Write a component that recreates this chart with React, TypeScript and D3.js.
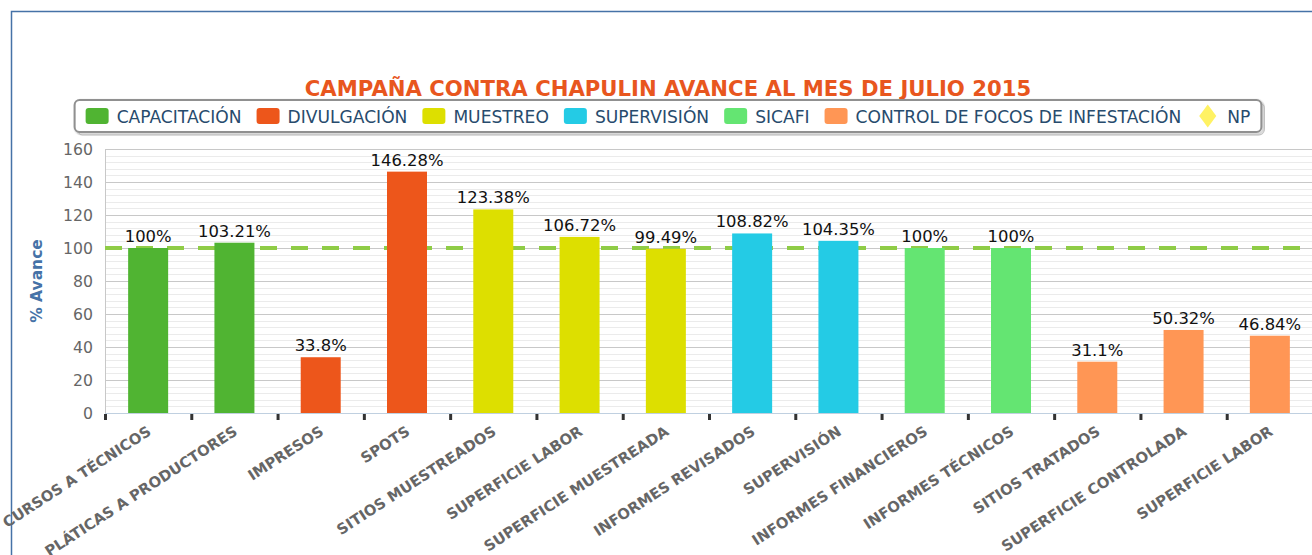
import React, { useEffect, useRef } from "react";
import * as d3 from "d3";

// categories and values
const categories = [
  "CURSOS A TÉCNICOS",
  "PLÁTICAS A PRODUCTORES",
  "IMPRESOS",
  "SPOTS",
  "SITIOS MUESTREADOS",
  "SUPERFICIE LABOR",
  "SUPERFICIE MUESTREADA",
  "INFORMES REVISADOS",
  "SUPERVISIÓN",
  "INFORMES FINANCIEROS",
  "INFORMES TÉCNICOS",
  "SITIOS TRATADOS",
  "SUPERFICIE CONTROLADA",
  "SUPERFICIE LABOR",
];
const values = [100, 103.21, 33.8, 146.28, 123.38, 106.72, 99.49, 108.82, 104.35, 100, 100, 31.1, 50.32, 46.84];
const seriesOfBar = [0, 0, 1, 1, 2, 2, 2, 3, 3, 4, 4, 5, 5, 5];
const seriesNames = [
  "CAPACITACIÓN",
  "DIVULGACIÓN",
  "MUESTREO",
  "SUPERVISIÓN",
  "SICAFI",
  "CONTROL DE FOCOS DE INFESTACIÓN",
  "NP",
];
const seriesColors = ["#50B432", "#ED561B", "#DDDF00", "#24CBE5", "#64E572", "#FF9655", "#FFF263"];
const yTicks = [0, 20, 40, 60, 80, 100, 120, 140, 160];
const goalLine = [100];

const title = "CAMPAÑA CONTRA CHAPULIN AVANCE AL MES DE JULIO 2015";
const yTitle = "% Avance";
const font = "'DejaVu Sans', Verdana, sans-serif";

const App = () => {
  const svgRef = useRef<SVGSVGElement>(null);
  const width = 1312;
  const height = 555;
  const margin = { top: 149, right: -1, bottom: 142, left: 105 };
  const centerX = 668;

  useEffect(() => {
    const svg = d3.select(svgRef.current);
    svg.selectAll("*").remove();

    const x = d3
      .scaleBand<number>()
      .domain(d3.range(categories.length))
      .range([margin.left, width - margin.right]);
    const y = d3
      .scaleLinear()
      .domain([0, 160])
      .range([height - margin.bottom, margin.top]);
    const barW = 40;

    // chart frame
    svg
      .append("rect")
      .attr("x", 11.5)
      .attr("y", 11.5)
      .attr("width", 1314)
      .attr("height", 700)
      .attr("fill", "white")
      .attr("stroke", "#4572A7")
      .attr("stroke-width", 1.5);

    // minor grid
    const minor = d3.range(0, 161, 4).filter((v) => v % 20 !== 0);
    svg
      .append("g")
      .selectAll("line")
      .data(minor)
      .join("line")
      .attr("x1", margin.left)
      .attr("x2", width)
      .attr("y1", (d) => Math.round(y(d)) + 0.5)
      .attr("y2", (d) => Math.round(y(d)) + 0.5)
      .attr("stroke", "#EBEBEB");

    // major grid
    svg
      .append("g")
      .selectAll("line")
      .data(yTicks.filter((d) => d > 0))
      .join("line")
      .attr("x1", margin.left)
      .attr("x2", width)
      .attr("y1", (d) => Math.round(y(d)) + 0.5)
      .attr("y2", (d) => Math.round(y(d)) + 0.5)
      .attr("stroke", "#C8C8C8");

    // plot left border
    svg
      .append("line")
      .attr("x1", margin.left + 0.5)
      .attr("x2", margin.left + 0.5)
      .attr("y1", y(160))
      .attr("y2", y(0))
      .attr("stroke", "#C8C8C8");

    // y tick labels
    svg
      .append("g")
      .selectAll("text")
      .data(yTicks)
      .join("text")
      .attr("x", 93)
      .attr("y", (d) => y(d) + 5.5)
      .attr("text-anchor", "end")
      .attr("font-family", font)
      .attr("font-size", 15.7)
      .attr("fill", "#666")
      .text((d) => d);

    // y title
    svg
      .append("text")
      .attr("transform", `translate(42, ${(y(0) + y(160)) / 2}) rotate(-90)`)
      .attr("text-anchor", "middle")
      .attr("font-family", font)
      .attr("font-weight", "bold")
      .attr("font-size", 15.5)
      .attr("fill", "#4572A7")
      .text(yTitle);

    // goal dashed line
    svg
      .append("g")
      .selectAll("line")
      .data(goalLine)
      .join("line")
      .attr("x1", margin.left)
      .attr("x2", width)
      .attr("y1", (d) => y(d))
      .attr("y2", (d) => y(d))
      .attr("stroke", "#8FCC46")
      .attr("stroke-width", 4)
      .attr("stroke-dasharray", "17,14");

    // bars
    svg
      .append("g")
      .selectAll("rect")
      .data(values)
      .join("rect")
      .attr("x", (d, i) => (x(i) as number) + x.bandwidth() / 2 - barW / 2)
      .attr("y", (d) => y(d))
      .attr("width", barW)
      .attr("height", (d) => y(0) - y(d))
      .attr("fill", (d, i) => seriesColors[seriesOfBar[i]]);

    // data labels
    svg
      .append("g")
      .selectAll("text")
      .data(values)
      .join("text")
      .attr("x", (d, i) => (x(i) as number) + x.bandwidth() / 2)
      .attr("y", (d) => y(d) - 6)
      .attr("text-anchor", "middle")
      .attr("font-family", font)
      .attr("font-size", 16.4)
      .attr("fill", "#111")
      .text((d) => `${d}%`);

    // x axis line
    svg
      .append("line")
      .attr("x1", margin.left)
      .attr("x2", width)
      .attr("y1", y(0) + 0.5)
      .attr("y2", y(0) + 0.5)
      .attr("stroke", "#C0D0E0");

    // tick marks between categories
    svg
      .append("g")
      .selectAll("line")
      .data(d3.range(categories.length))
      .join("line")
      .attr("x1", (i) => (x(i) as number) + 0.5)
      .attr("x2", (i) => (x(i) as number) + 0.5)
      .attr("y1", y(0) + 1)
      .attr("y2", y(0) + 7)
      .attr("stroke", "#333")
      .attr("stroke-width", 3);

    // category labels
    svg
      .append("g")
      .selectAll("text")
      .data(categories)
      .join("text")
      .attr(
        "transform",
        (d, i) => `translate(${(x(i) as number) + x.bandwidth() / 2 + 4}, 434) rotate(-33)`
      )
      .attr("text-anchor", "end")
      .attr("font-family", font)
      .attr("font-weight", "bold")
      .attr("font-size", 14.8)
      .attr("fill", "#666")
      .text((d) => d);

    // title
    svg
      .append("text")
      .attr("x", centerX)
      .attr("y", 96)
      .attr("text-anchor", "middle")
      .attr("font-family", font)
      .attr("font-weight", "bold")
      .attr("font-size", 21.2)
      .attr("fill", "#E8561E")
      .text(title);

    // legend
    const legend = svg.append("g");
    const box = legend.append("g");
    const items = legend.append("g");
    const symW = 23;
    const gap = 8;
    const itemDist = 15;
    let cx = 0;
    seriesNames.forEach((name, i) => {
      const g = items.append("g").attr("transform", `translate(${cx},0)`);
      if (name === "NP") {
        g.append("path")
          .attr("d", d3.symbol(d3.symbolDiamond, 150)())
          .attr("transform", `translate(${symW / 2},0) scale(1.3,1)`)
          .attr("fill", seriesColors[i]);
      } else {
        g.append("rect")
          .attr("x", 0)
          .attr("y", -8)
          .attr("width", symW)
          .attr("height", 16)
          .attr("rx", 3)
          .attr("fill", seriesColors[i]);
      }
      const t = g
        .append("text")
        .attr("x", symW + gap)
        .attr("y", 6.5)
        .attr("font-family", font)
        .attr("font-size", 17.1)
        .attr("fill", "#274B6D")
        .text(name);
      const tw = (t.node() as SVGTextElement).getComputedTextLength();
      cx += symW + gap + tw + itemDist;
    });
    const totalW = cx - itemDist;
    const pad = 11;
    const boxW = totalW + pad * 2;
    const boxX = centerX - boxW / 2;
    const boxY = 100;
    const boxH = 32;
    items.attr("transform", `translate(${boxX + pad}, ${boxY + boxH / 2})`);
    [3, 2, 1].forEach((o) => {
      box
        .append("rect")
        .attr("x", boxX + o)
        .attr("y", boxY + o)
        .attr("width", boxW)
        .attr("height", boxH)
        .attr("rx", 5)
        .attr("fill", "none")
        .attr("stroke", "#000")
        .attr("stroke-opacity", 0.05 * o)
        .attr("stroke-width", 6 - 2 * o + 1);
    });
    box
      .append("rect")
      .attr("x", boxX)
      .attr("y", boxY)
      .attr("width", boxW)
      .attr("height", boxH)
      .attr("rx", 5)
      .attr("fill", "white")
      .attr("stroke", "#909090")
      .attr("stroke-width", 2);
  }, []);

  return (
    <svg
      ref={svgRef}
      width={width}
      height={height}
      style={{ position: "absolute", left: 0, top: 0, background: "white" }}
    ></svg>
  );
};

export default App;
